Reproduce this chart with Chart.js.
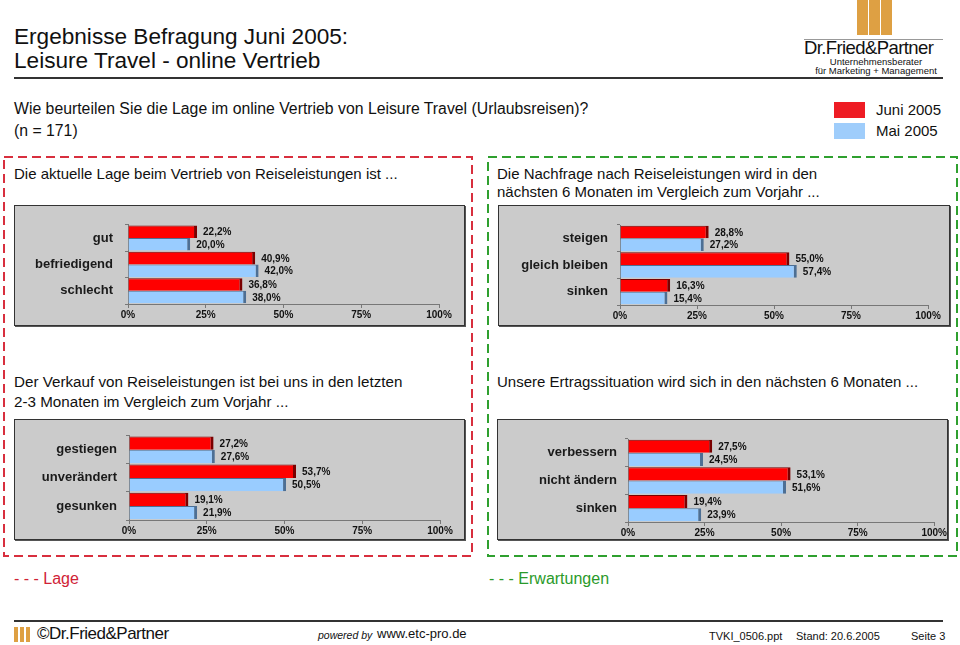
<!DOCTYPE html>
<html>
<head>
<meta charset="utf-8">
<script src="https://cdn.jsdelivr.net/npm/chart.js@4/dist/chart.umd.min.js"></script>
<style>
  body { margin: 0; background: #fff; }
  #page { position: relative; width: 960px; height: 645px; overflow: hidden; font-family: "Liberation Sans", Arial, sans-serif; color: #111; }
  .txt { position: absolute; white-space: nowrap; }
  .panel { position: absolute; box-sizing: border-box; background: #cbcbcb; border: 1px solid #333; box-shadow: 1px 1px 0 #555; }
  canvas { position: absolute; }
</style>
</head>
<body>
<div id="page">
  <!-- header -->
  <div class="txt" style="left:14px; top:25px; font-size:22.6px; line-height:24px;">Ergebnisse Befragung Juni 2005:<br>Leisure Travel - online Vertrieb</div>
  <div style="position:absolute; left:14px; top:77px; width:929px; height:2px; background:#333;"></div>

  <!-- logo -->
  <div style="position:absolute; left:857px; top:0; width:11px; height:35px; background:#dea043;"></div>
  <div style="position:absolute; left:869px; top:0; width:11px; height:35px; background:#dea043;"></div>
  <div style="position:absolute; left:881px; top:0; width:11px; height:35px; background:#dea043;"></div>
  <div style="position:absolute; left:804px; top:39px; width:139px; height:1px; background:#999;"></div>
  <div class="txt" style="left:804px; top:38px; font-size:18.5px; line-height:20px; letter-spacing:-0.6px;">Dr.Fried&amp;Partner</div>
  <div class="txt" style="left:806px; top:57px; width:140px; text-align:center; font-size:9.5px; line-height:9px;">Unternehmensberater<br>für Marketing + Management</div>

  <div class="txt" style="left:14px; top:98px; font-size:15.8px; line-height:22px;">Wie beurteilen Sie die Lage im online Vertrieb von Leisure Travel (Urlaubsreisen)?<br>(n = 171)</div>

  <!-- legend -->
  <div style="position:absolute; left:834px; top:102px; width:31px; height:16px; background:#ee1c24;"></div>
  <div style="position:absolute; left:834px; top:123px; width:31px; height:16px; background:#9fcdfb;"></div>
  <div class="txt" style="left:876px; top:101px; font-size:15px; line-height:18px;">Juni 2005</div>
  <div class="txt" style="left:876px; top:122px; font-size:15px; line-height:18px;">Mai 2005</div>

  <!-- dashed frames -->
  <svg width="960" height="645" style="position:absolute; left:0; top:0;">
    <rect x="4" y="157" width="468" height="399" fill="none" stroke="#d82f3e" stroke-width="2" stroke-dasharray="9 5"/>
    <rect x="488" y="157" width="469" height="399" fill="none" stroke="#2fa02f" stroke-width="2" stroke-dasharray="9 5"/>
  </svg>

  <div class="txt" style="left:14px; top:165px; font-size:15px; line-height:17px;">Die aktuelle Lage beim Vertrieb von Reiseleistungen ist ...</div>
  <div class="txt" style="left:497px; top:165px; font-size:15px; line-height:18px;">Die Nachfrage nach Reiseleistungen wird in den<br>nächsten 6 Monaten im Vergleich zum Vorjahr ...</div>
  <div class="txt" style="left:14px; top:372px; font-size:15.2px; line-height:20px;">Der Verkauf von Reiseleistungen ist bei uns in den letzten<br>2-3 Monaten im Vergleich zum Vorjahr ...</div>
  <div class="txt" style="left:497px; top:372px; font-size:15px; line-height:20px;">Unsere Ertragssituation wird sich in den nächsten 6 Monaten ...</div>

  <div class="panel" style="left:14px; top:205px; width:451px; height:121px;"></div>
  <div class="panel" style="left:498px; top:205px; width:452px; height:121px;"></div>
  <div class="panel" style="left:14px; top:419px; width:451px; height:121px;"></div>
  <div class="panel" style="left:497px; top:419px; width:451px; height:121px;"></div>

  <canvas id="lage" width="451" height="121" style="left:14px; top:205px;"></canvas>
  <canvas id="nachfrage" width="452" height="121" style="left:498px; top:205px;"></canvas>
  <canvas id="verkauf" width="451" height="121" style="left:14px; top:419px;"></canvas>
  <canvas id="ertrag" width="451" height="121" style="left:497px; top:419px;"></canvas>

  <!-- footer -->
  <div class="txt" style="left:14px; top:569px; font-size:16px; line-height:20px; color:#d02236;">- - - Lage</div>
  <div class="txt" style="left:489px; top:569px; font-size:16px; line-height:20px; color:#2a9a2a;">- - - Erwartungen</div>
  <div style="position:absolute; left:14px; top:620px; width:929px; height:2px; background:#333;"></div>
  <div style="position:absolute; left:14px; top:627px; width:4px; height:15px; background:#dea043;"></div>
  <div style="position:absolute; left:20px; top:627px; width:4px; height:15px; background:#dea043;"></div>
  <div style="position:absolute; left:26px; top:627px; width:4px; height:15px; background:#dea043;"></div>
  <div class="txt" style="left:37px; top:624px; font-size:17px; line-height:20px; letter-spacing:-0.5px;">©Dr.Fried&amp;Partner</div>
  <div class="txt" style="left:318px; top:627px; font-size:10.5px; line-height:16px;"><i>powered by</i></div>
  <div class="txt" style="left:377px; top:625px; font-size:13px; line-height:18px;">www.etc-pro.de</div>
  <div class="txt" style="left:709px; top:628px; font-size:11px; line-height:16px;">TVKI_0506.ppt</div>
  <div class="txt" style="left:796px; top:628px; font-size:11px; line-height:16px;">Stand: 20.6.2005</div>
  <div class="txt" style="left:911px; top:628px; font-size:11px; line-height:16px;">Seite 3</div>
</div>

<script>
'use strict';

// series
const seriesNames = ['Juni 2005', 'Mai 2005'];
const percentTicks = [0, 25, 50, 75, 100];

// Lage: aktuelle Lage beim Vertrieb
const lageCategories = ['gut', 'befriedigend', 'schlecht'];
const lageJuni = [22.2, 40.9, 36.8];
const lageMai = [20.0, 42.0, 38.0];

// Nachfrage in den naechsten 6 Monaten
const nachfrageCategories = ['steigen', 'gleich bleiben', 'sinken'];
const nachfrageJuni = [28.8, 55.0, 16.3];
const nachfrageMai = [27.2, 57.4, 15.4];

// Verkauf in den letzten 2-3 Monaten
const verkaufCategories = ['gestiegen', 'unverändert', 'gesunken'];
const verkaufJuni = [27.2, 53.7, 19.1];
const verkaufMai = [27.6, 50.5, 21.9];

// Ertragssituation
const ertragCategories = ['verbessern', 'nicht ändern', 'sinken'];
const ertragJuni = [27.5, 53.1, 19.4];
const ertragMai = [24.5, 51.6, 23.9];

const FONT = '"Liberation Sans", Arial, sans-serif';

const formatPercent = (v) => v.toFixed(1).replace('.', ',') + '%';

// draws the numbers next to each bar
const valueLabels = {
  id: 'valueLabels',
  afterDatasetsDraw(chart) {
    const ctx = chart.ctx;
    ctx.save();
    ctx.font = 'bold 10px ' + FONT;
    ctx.fillStyle = '#111';
    ctx.textBaseline = 'middle';
    chart.data.datasets.forEach((ds, i) => {
      chart.getDatasetMeta(i).data.forEach((bar, j) => {
        ctx.fillText(formatPercent(ds.data[j]), bar.x + 6, bar.y + 1);
      });
    });
    ctx.restore();
  }
};

function makeChart(id, categories, juni, mai, lay) {
  return new Chart(document.getElementById(id), {
    type: 'bar',
    data: {
      labels: categories,
      datasets: [
        { label: seriesNames[0], data: juni, backgroundColor: '#ff0000', borderColor: '#7a0000',
          borderWidth: { top: 1, right: 3, bottom: 0, left: 0 }, borderSkipped: false },
        { label: seriesNames[1], data: mai, backgroundColor: '#99ccff', borderColor: '#4d6f94',
          borderWidth: { top: 1, right: 3, bottom: 0, left: 0 }, borderSkipped: false }
      ]
    },
    options: {
      indexAxis: 'y',
      responsive: false,
      animation: false,
      datasets: { bar: { categoryPercentage: 0.95, barPercentage: 1 } },
      layout: { padding: { top: lay.padTop, right: lay.padRight, left: 0, bottom: 0 } },
      plugins: { legend: { display: false }, tooltip: { enabled: false } },
      scales: {
        x: {
          min: 0,
          max: 100,
          afterBuildTicks: (scale) => { scale.ticks = percentTicks.map(v => ({ value: v })); },
          afterFit: (scale) => { scale.height = lay.xHeight; },
          ticks: { callback: (v) => v + '%', font: { family: FONT, size: 10, weight: 'bold' }, color: '#111', padding: 1, maxRotation: 0 },
          grid: { drawOnChartArea: false, tickLength: 4, color: '#777' },
          border: { color: '#777' }
        },
        y: {
          afterFit: (scale) => { scale.width = lay.yWidth; },
          ticks: { font: { family: FONT, size: 13, weight: 'bold' }, color: '#1a1a1a', padding: lay.labelPad },
          grid: { drawOnChartArea: false, tickLength: 3, color: '#777' },
          border: { color: '#777' }
        }
      }
    },
    plugins: [valueLabels]
  });
}

makeChart('lage', lageCategories, lageJuni, lageMai,
  { yWidth: 114, padTop: 17, padRight: 26, xHeight: 22, labelPad: 12 });
makeChart('nachfrage', nachfrageCategories, nachfrageJuni, nachfrageMai,
  { yWidth: 122, padTop: 20, padRight: 22, xHeight: 21, labelPad: 9 });
makeChart('verkauf', verkaufCategories, verkaufJuni, verkaufMai,
  { yWidth: 115, padTop: 16, padRight: 25, xHeight: 20, labelPad: 9 });
makeChart('ertrag', ertragCategories, ertragJuni, ertragMai,
  { yWidth: 131, padTop: 20, padRight: 12, xHeight: 18, labelPad: 8 });
</script>
</body>
</html>
